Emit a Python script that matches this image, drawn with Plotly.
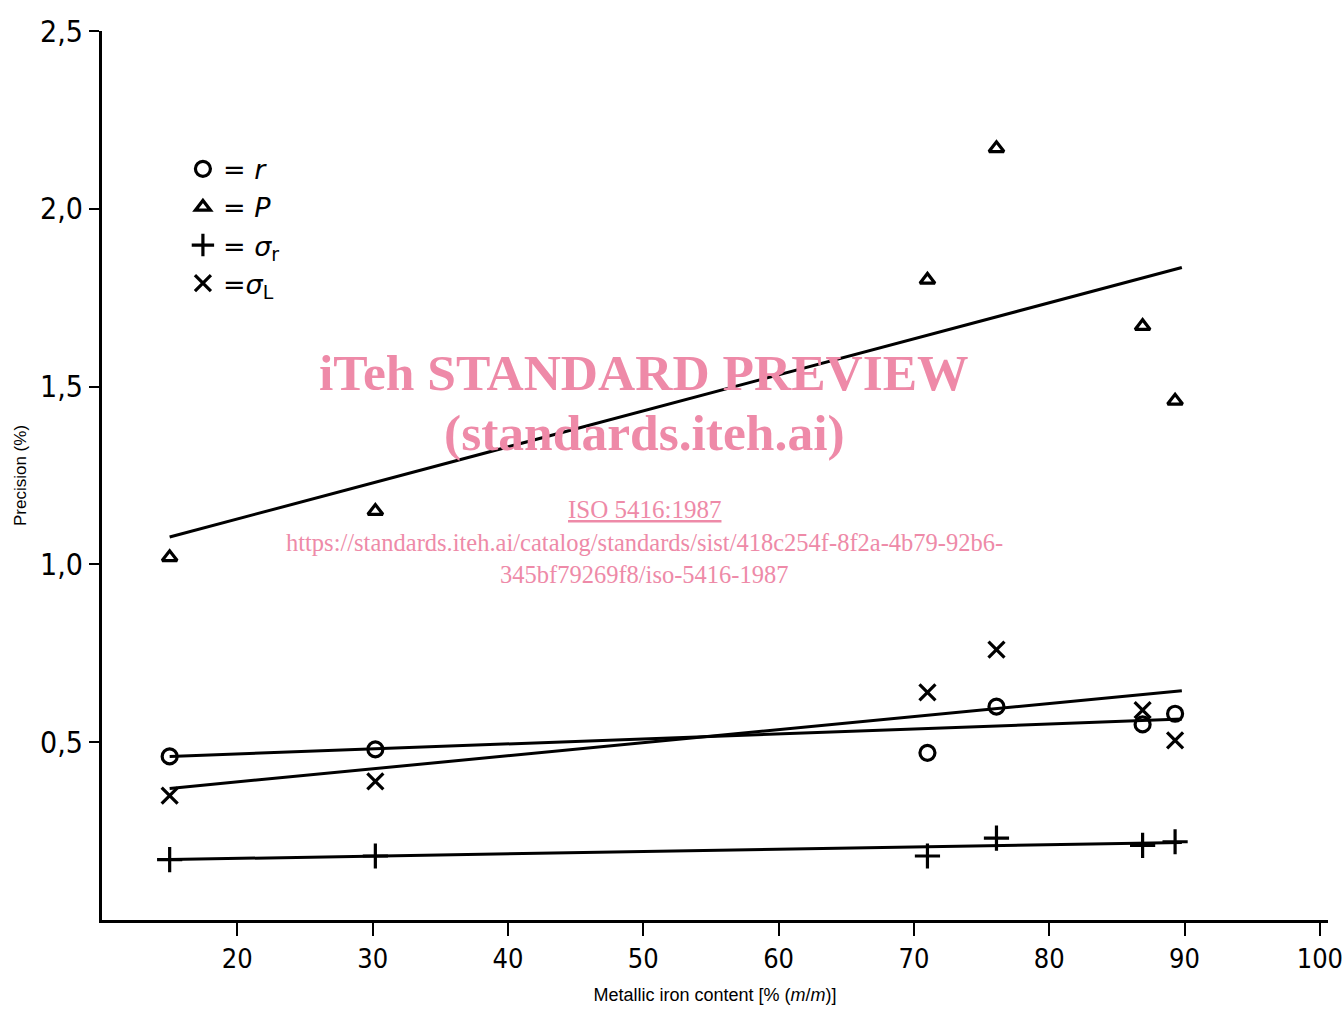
import plotly.graph_objects as go

# Data
x_iron = [15.0, 30.2, 71.0, 76.1, 86.9, 89.3]
r_vals = [0.46, 0.48, 0.47, 0.60, 0.55, 0.58]
P_vals = [1.02, 1.15, 1.80, 2.17, 1.67, 1.46]
sr_vals = [0.17, 0.18, 0.18, 0.23, 0.21, 0.22]
sL_vals = [0.35, 0.39, 0.64, 0.76, 0.59, 0.505]

# fitted regression lines (end points)
fit_x = [15.0, 89.8]
fit_r = [0.46, 0.565]
fit_P = [1.077, 1.835]
fit_sr = [0.17, 0.218]
fit_sL = [0.37, 0.645]

x_ticks = [20, 30, 40, 50, 60, 70, 80, 90, 100]
x_ticktext = ["20", "30", "40", "50", "60", "70", "80", "90", "100"]
y_ticks = [0.5, 1.0, 1.5, 2.0, 2.5]
y_ticktext = ["0,5", "1,0", "1,5", "2,0", "2,5"]

fig = go.Figure()

for fy in [fit_P, fit_r, fit_sL, fit_sr]:
    fig.add_trace(go.Scatter(x=fit_x, y=fy, mode="lines", line=dict(color="black", width=3),
                             showlegend=False, hoverinfo="skip"))

series = [
    ("= <i>r</i>", r_vals, "circle-open", 15),
    ("= <i>P</i>", P_vals, "triangle-up-open", 13),
    ("= <i>σ</i><sub>r</sub>", sr_vals, "cross-thin-open", 18),
    ("=<i>σ</i><sub>L</sub>", sL_vals, "x-thin-open", 16),
]
for name, vals, sym, sz in series:
    fig.add_trace(go.Scatter(x=x_iron, y=vals, mode="markers", name=name,
                             marker=dict(symbol=sym, size=sz, color="black",
                                         line=dict(color="black", width=3.2))))

pink = "rgb(238,138,168)"
wm = [
    ("<b>iTeh STANDARD PREVIEW</b>", 372, 51.5),
    ("<b>(standards.iteh.ai)</b>", 432, 51.5),
    ("<u>ISO 5416:1987</u>", 510, 25),
    ("https://standards.iteh.ai/catalog/standards/sist/418c254f-8f2a-4b79-92b6-", 542, 24.5),
    ("345bf79269f8/iso-5416-1987", 574, 24.5),
]
annotations = []
for txt, ypx, fs in wm:
    annotations.append(dict(text=txt, xref="paper", yref="paper",
                            x=(644 - 102) / 1226, y=1 - (ypx - 31) / 889,
                            xanchor="center", yanchor="middle", showarrow=False,
                            font=dict(family="Liberation Serif", size=fs, color=pink)))

tickfam = "DejaVu Sans Condensed, sans-serif"

fig.update_layout(
    width=1344, height=1009,
    margin=dict(l=102, r=16, t=31, b=89),
    paper_bgcolor="white", plot_bgcolor="white",
    font=dict(family=tickfam, color="black"),
    showlegend=True,
    legend=dict(x=0.066, y=0.872, xanchor="left", yanchor="top", bgcolor="rgba(0,0,0,0)",
                font=dict(family="DejaVu Sans, sans-serif", size=27, color="black"),
                tracegroupgap=0, itemwidth=30),
    annotations=annotations,
    xaxis=dict(range=[10, 100.6], tickvals=x_ticks, ticktext=x_ticktext, automargin=False,
               showline=True, linecolor="black", linewidth=3, showgrid=False, zeroline=False,
               ticks="outside", ticklen=13, tickwidth=2, tickcolor="black",
               ticklabeloverflow="allow",
               tickfont=dict(size=27, family=tickfam),
               title=dict(text="Metallic iron content [% (<i>m</i>/<i>m</i>)]",
                          font=dict(size=18, family="Liberation Sans, Arial, sans-serif"), standoff=15)),
    yaxis=dict(range=[0, 2.5], tickvals=y_ticks, ticktext=y_ticktext, automargin=False,
               showline=True, linecolor="black", linewidth=3, showgrid=False, zeroline=False,
               ticks="outside", ticklen=10, tickwidth=2, tickcolor="black",
               ticklabeloverflow="allow",
               tickfont=dict(size=30, family=tickfam),
               title=dict(text="Precision (%)", font=dict(size=17, family="Liberation Sans, Arial, sans-serif"),
                          standoff=10)),
)

fig.write_html("out.html", config={"displayModeBar": False},
               post_script="document.body.style.margin='0px';")
